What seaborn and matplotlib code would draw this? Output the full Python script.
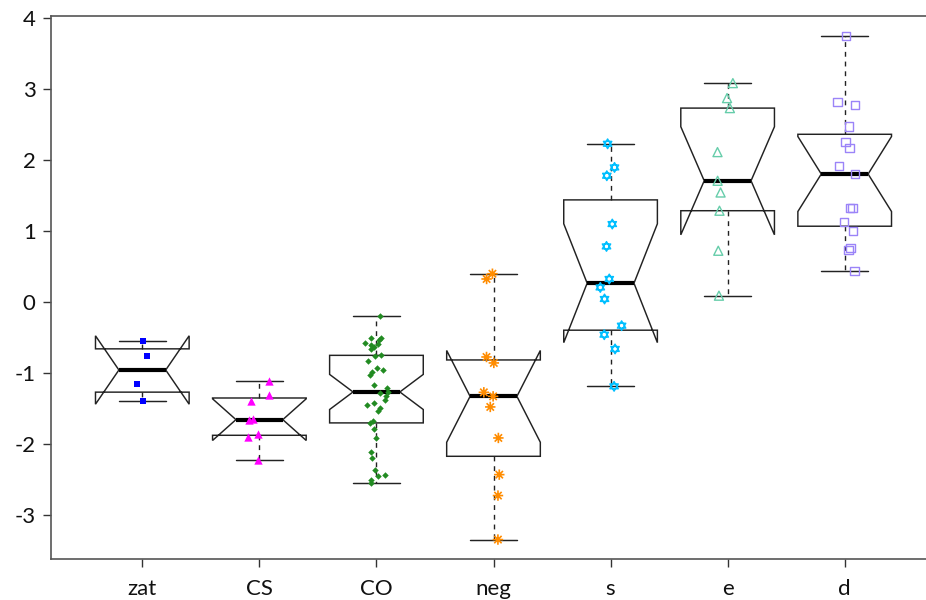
import numpy as np
import pandas as pd
import matplotlib
matplotlib.use("Agg")
import matplotlib as mpl
import matplotlib.cbook
import matplotlib.pyplot as plt
from matplotlib.path import Path
import seaborn as sns

# ---------------- data ----------------
categories = ["zat", "CS", "CO", "neg", "s", "e", "d"]

zat = [-0.559, -0.770, -1.155, -1.394]
cs = [-1.123, -1.310, -1.404, -1.652, -1.672, -1.859, -1.906, -2.225]
co = [-0.207, -0.511, -0.511, -0.535, -0.582, -0.596, -0.615, -0.644, -0.666,
      -0.756, -0.770, -0.841, -0.934, -0.958, -0.996, -1.028, -1.169, -1.215,
      -1.272, -1.286, -1.324, -1.380, -1.427, -1.451, -1.497, -1.545, -1.686,
      -1.708, -1.793, -1.920, -2.123, -2.201, -2.366, -2.437, -2.461, -2.517,
      -2.554]
neg = [0.394, 0.320, -0.779, -0.863, -1.277, -1.334, -1.483, -1.920, -2.437,
       -2.732, -3.352]
s_vals = [2.225, 1.892, 1.775, 1.094, 0.779, 0.320, 0.201, 0.038, -0.338,
          -0.465, -0.666, -1.193]
e_vals = [3.080, 2.869, 2.728, 2.108, 1.704, 1.539, 1.282, 0.718, 0.085]
d_vals = [3.746, 2.813, 2.775, 2.469, 2.249, 2.165, 1.915, 1.799, 1.320, 1.320,
          1.127, 1.000, 0.761, 0.732, 0.437]

series = [zat, cs, co, neg, s_vals, e_vals, d_vals]
point_colors = ["#0000FF", "#FF00FF", "#228B22", "#FF8C00", "#00BFFF",
                "#66CDAA", "#9B84F8"]

yticks = [-3, -2, -1, 0, 1, 2, 3, 4]

# ---------------- R-style (Tukey hinge) box statistics ----------------
_orig_stats = matplotlib.cbook.boxplot_stats


def r_boxplot_stats(X, whis=1.5, bootstrap=None, labels=None, autorange=False):
    res = _orig_stats(X, whis=whis, bootstrap=bootstrap, labels=labels,
                      autorange=autorange)
    arrays = list(X)
    for st, x in zip(res, arrays):
        x = np.sort(np.asarray(x, float))
        n = len(x)
        n4 = np.floor((n + 3) / 2) / 2
        dpos = np.array([1, n4, (n + 1) / 2, n + 1 - n4, n])
        fn = 0.5 * (x[np.floor(dpos).astype(int) - 1] + x[np.ceil(dpos).astype(int) - 1])
        q1, med, q3 = fn[1], fn[2], fn[3]
        iqr = q3 - q1
        half = 1.58 * iqr / np.sqrt(n)
        st.update(q1=q1, med=med, q3=q3, iqr=iqr, cilo=med - half, cihi=med + half)
        lo = x[x >= q1 - whis * iqr]
        hi = x[x <= q3 + whis * iqr]
        st["whislo"] = lo.min()
        st["whishi"] = hi.max()
        st["fliers"] = x[(x < st["whislo"]) | (x > st["whishi"])]
    return res


mpl.cbook.boxplot_stats = r_boxplot_stats

# ---------------- long-form table ----------------
df = pd.DataFrame({
    "group": np.concatenate([[c] * len(v) for c, v in zip(categories, series)]),
    "value": np.concatenate([np.asarray(v, float) for v in series]),
})

# ---------------- figure ----------------
sns.set_style("white")
plt.rcParams["font.family"] = ["Lato", "DejaVu Sans"]

fig = plt.figure(figsize=(9.26, 6.0), dpi=100)
ax = fig.add_axes([51 / 926, (600 - 559.3) / 600, 885 / 926, (559.3 - 15.7) / 600])

sns.boxplot(data=df, x="group", y="value", order=categories, ax=ax,
            color="white", linecolor="#222222", linewidth=1.05, width=0.8,
            notch=True, showfliers=False, saturation=1,
            whiskerprops=dict(linestyle=(0, (3.5, 3.5)), linewidth=1.0),
            medianprops=dict(linewidth=3.0, color="black"),
            capprops=dict(linewidth=1.05))

# marker shapes
ang = np.deg2rad([90, 210, 330])
up = np.c_[np.cos(ang), np.sin(ang)]
dn = -up
david = Path(np.vstack([up, up[:1], dn, dn[:1]]),
             [Path.MOVETO, Path.LINETO, Path.LINETO, Path.CLOSEPOLY] * 2)
sp = np.deg2rad(np.arange(0, 180, 45))
star_v, star_c = [], []
for a in sp:
    star_v += [(np.cos(a), np.sin(a)), (-np.cos(a), -np.sin(a))]
    star_c += [Path.MOVETO, Path.LINETO]
asterisk = Path(np.array(star_v), star_c)

marker_specs = [
    ("s", 5, "filled"),
    ("^", 6, "filled"),
    ("D", 3.3, "filled"),
    (asterisk, 7.5, "line"),
    (david, 7, "open"),
    ("^", 6.5, "open"),
    ("s", 6, "open"),
]

np.random.seed(3)
for cat, vals, col, (mk, sz, kind) in zip(categories, series, point_colors, marker_specs):
    n_before = len(ax.collections)
    kws = dict(marker=mk, size=sz, jitter=0.1, ax=ax, zorder=4)
    if kind == "filled":
        kws.update(linewidth=0)
    elif kind == "open":
        kws.update(facecolors="none", edgecolor=col, linewidth=1.0)
    else:
        kws.update(facecolors="none", edgecolor=col, linewidth=1.2)
    sns.stripplot(x=[cat] * len(vals), y=vals, order=categories, color=col, **kws)
    for coll in ax.collections[n_before:]:
        if kind != "filled":
            coll.set_facecolor("none")
            coll.set_edgecolor(col)
            coll.set_linewidth(1.2 if kind == "line" else 1.0)

ax.set_xlim(-0.78, 6.78)
ax.set_ylim(-3.63, 4.03)
ax.set_yticks(yticks)
ax.set_yticklabels([str(t) for t in yticks])
ax.set_xticks(range(len(categories)))
ax.set_xticklabels(categories)
ax.set_xlabel("")
ax.set_ylabel("")

for side in ["left", "bottom", "top", "right"]:
    ax.spines[side].set_visible(True)
    ax.spines[side].set_color("#555555")
    ax.spines[side].set_linewidth(1.2)

ax.tick_params(axis="both", which="both", direction="out", length=6, width=1.0,
               color="#333333", labelsize=16, labelcolor="#111111", pad=5,
               left=True, bottom=True)
ax.tick_params(axis="x", pad=8)
ax.grid(False)

fig.savefig("out.png", dpi=100)
